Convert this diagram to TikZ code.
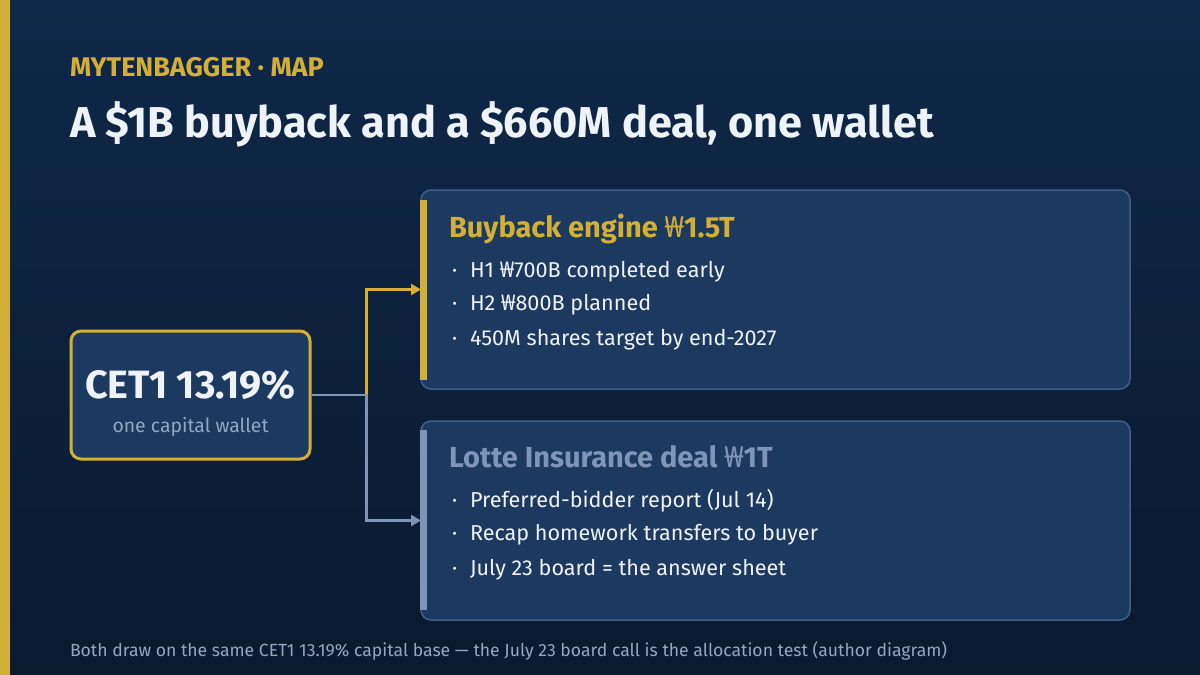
\documentclass[tikz,border=0pt]{standalone}
\usepackage{fontspec}
\setmainfont{Fira Sans}
\newfontfamily\wonf{Noto Sans}
\newcommand\won{{\wonf ₩}}
\usetikzlibrary{arrows.meta}
\definecolor{bgtop}{HTML}{0F2849}
\definecolor{bgbot}{HTML}{0A1A2F}
\definecolor{gold}{HTML}{D4AF37}
\definecolor{boxfill}{HTML}{1C3A5F}
\definecolor{boxline}{HTML}{3D5F8C}
\definecolor{slate}{HTML}{7F95B8}
\definecolor{ink}{HTML}{EEF3FA}
\definecolor{muted}{HTML}{93A6C2}
\begin{document}
\begin{tikzpicture}[x=1pt,y=-1pt,
  txt/.style={anchor=base west, inner sep=0pt, outer sep=0pt},
  card/.style={draw=boxline, line width=1.5pt, fill=boxfill, rounded corners=10pt, anchor=north west, inner sep=0pt, outer sep=0pt, minimum width=709pt, minimum height=199pt},
  bullet/.style={txt, text=ink, font=\fontsize{21.6}{24}\selectfont},
  conn/.style={line width=2.5pt, -{Triangle[length=10pt,width=11pt]}}]
\useasboundingbox (0,0) rectangle (1200,675);
\shade[top color=bgtop, bottom color=bgbot] (0,0) rectangle (1200,675);
\fill[gold] (0,0) rectangle (10,675);
% header
\node[txt, text=gold, font=\fontsize{27}{30}\bfseries] (kicker) at (70,76) {MYTENBAGGER · MAP};
\node[txt, text=ink, font=\fontsize{43.2}{48}\bfseries] (title) at (70,137) {A \$1B buyback and a \$660M deal, one wallet};
% wallet
\node[draw=gold, line width=3pt, fill=boxfill, rounded corners=10pt, minimum width=239pt, minimum height=128pt, inner sep=0pt] (wallet) at (190.5,395) {};
\node[anchor=base, inner sep=0pt, text=ink, font=\fontsize{39.5}{44}\bfseries] (cet) at (190.5,398) {CET1 13.19\%};
\node[anchor=base, inner sep=0pt, text=muted, font=\fontsize{19.4}{22}\selectfont] (cap) at (190.5,432) {one capital wallet};
% cards
\node[card] (buy) at (421,190) {};
\node[card] (deal) at (421,421) {};
\fill[gold] (420,200) rectangle (427,380);
\fill[slate] (420,430) rectangle (427,610);
% connectors
\draw[conn, gold] (wallet.east) -- ++(55,0) |- (buy.west);
\draw[conn, slate] (wallet.east) -- ++(55,0) |- (deal.west);
% buy card text
\node[txt, text=gold, font=\fontsize{29}{32}\bfseries] (buyt) at (449,237) {Buyback engine \won1.5T};
\node[bullet] (b1d) at (452,277) {·};
\node[bullet] (b1) at (470,277) {H1 \won700B completed early};
\node[bullet] (b2d) at (452,310) {·};
\node[bullet] (b2) at (470,310) {H2 \won800B planned};
\node[bullet] (b3d) at (452,345) {·};
\node[bullet] (b3) at (470,345) {450M shares target by end-2027};
% deal card text
\node[txt, text=slate, font=\fontsize{29}{32}\bfseries] (dealt) at (449,467) {Lotte Insurance deal \won1T};
\node[bullet] (d1d) at (452,507) {·};
\node[bullet] (d1) at (470,507) {Preferred-bidder report (Jul 14)};
\node[bullet] (d2d) at (452,540) {·};
\node[bullet] (d2) at (470,540) {Recap homework transfers to buyer};
\node[bullet] (d3d) at (452,575) {·};
\node[bullet] (d3) at (470,575) {July 23 board = the answer sheet};
% footer
\node[txt, text=muted, font=\fontsize{17.6}{20}\selectfont] (foot) at (70,656) {Both draw on the same CET1 13.19\% capital base — the July 23 board call is the allocation test (author diagram)};
\end{tikzpicture}
\end{document}
